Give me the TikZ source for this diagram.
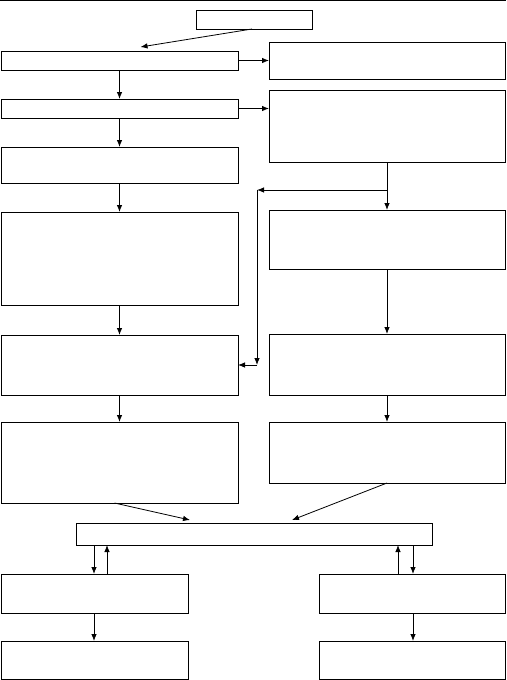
\documentclass[tikz,border=0pt]{standalone}
\usetikzlibrary{arrows.meta,calc}
\tikzset{
  bx/.style={draw, line width=0.9pt, inner sep=0pt, outer sep=0pt},
  arr/.style={line width=0.8pt, -{Latex[length=7pt,width=5.5pt]}},
  ln/.style={line width=0.8pt}
}
\newcommand\mkbox[5]{\node[bx, minimum width={(#4-#2)*1pt}, minimum height={(#5-#3)*1pt}] (#1) at ({(#2+#4)/2},{(#3+#5)/2}) {};}
\begin{document}
\begin{tikzpicture}[x=1pt,y=-1pt]
\useasboundingbox (0,0) rectangle (506,680);
\draw[ln] (0,0.6) -- (506,0.6);
\mkbox{T}{196}{10}{312}{29}
\mkbox{La}{1}{51}{238}{70}
\mkbox{Ra}{269}{42}{505}{79}
\mkbox{Lb}{1}{99}{238}{118}
\mkbox{Rb}{269}{90}{505}{162}
\mkbox{Lc}{1}{147}{238}{183}
\mkbox{Ld}{1}{212}{238}{305}
\mkbox{Rc}{269}{210}{505}{269}
\mkbox{Le}{1}{335}{238}{395}
\mkbox{Rd}{269}{334}{505}{395}
\mkbox{Lf}{1}{422}{238}{503}
\mkbox{Re}{269}{422}{505}{483}
\mkbox{B}{76}{523}{432}{545}
\mkbox{BLa}{1}{574}{188}{613}
\mkbox{BRa}{319}{574}{505}{613}
\mkbox{BLb}{1}{641}{188}{679}
\mkbox{BRb}{319}{641}{505}{679}
% arrows
\draw[arr] ($(T.south)+(-2,0)$) -- ($(La.north)+(21,-4)$);
\draw[arr] (La.east) -- (La.east -| Ra.west);
\draw[arr] (La.south) -- (Lb.north);
\draw[arr] (Lb.east) -- (Lb.east -| Rb.west);
\draw[arr] (Lb.south) -- (Lc.north);
\draw[arr] (Lc.south) -- (Ld.north);
\coordinate (j1) at (Rb.south |- 0,190);
\coordinate (j2) at (257,190);
\coordinate (j3) at (257,365);
\draw[ln] (Rb.south) -- (j1);
\draw[arr] (j1) -- (Rc.north);
\draw[arr] (j1) -- (j2);
\draw[arr] (j2) -- (j3);
\draw[arr] (j3) -- (j3 -| Le.east);
\draw[arr] (Ld.south) -- (Le.north);
\draw[arr] (Rc.south) -- (Rd.north);
\draw[arr] (Le.south) -- (Lf.north);
\draw[arr] (Rd.south) -- (Re.north);
\draw[arr] ($(Lf.south)+(-5,0)$) -- ($(B.north)+(-64,-3)$);
\draw[arr] (Re.south) -- ($(B.north)+(38,-3)$);
\draw[arr] (B.south -| 94,0) -- (BLa.north -| 94,0);
\draw[arr] (BLa.north -| 107,0) -- (B.south -| 107,0);
\draw[arr] (BRa.north -| 398,0) -- (B.south -| 398,0);
\draw[arr] (B.south -| 413,0) -- (BRa.north -| 413,0);
\draw[arr] (BLa.south -| 94,0) -- (BLb.north -| 94,0);
\draw[arr] (BRa.south -| 413,0) -- (BRb.north -| 413,0);
\end{tikzpicture}
\end{document}
